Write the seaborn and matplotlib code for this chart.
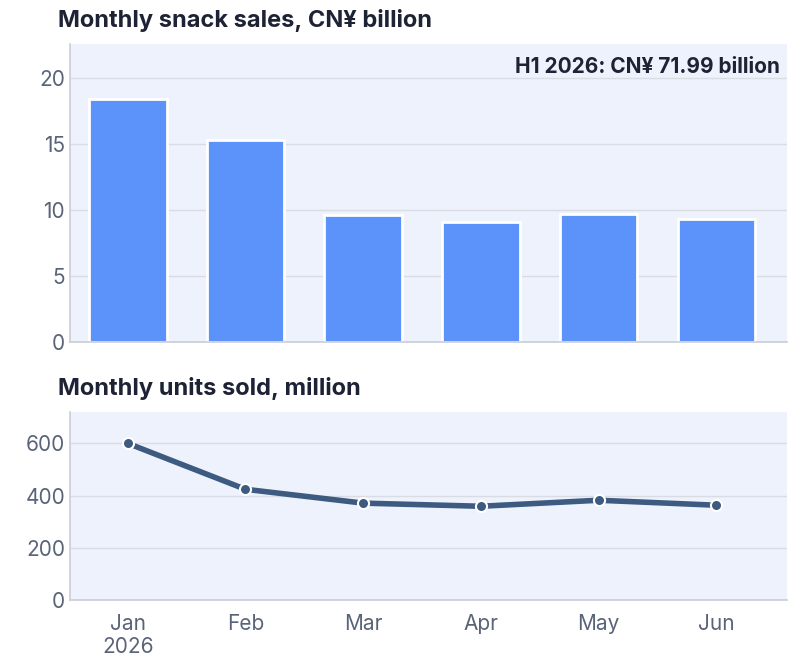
import matplotlib
matplotlib.use("Agg")
import matplotlib.pyplot as plt
import seaborn as sns
import pandas as pd

months = ["Jan\n2026", "Feb", "Mar", "Apr", "May", "Jun"]
sales = [18.4, 15.3, 9.6, 9.1, 9.7, 9.35]
units = [600, 424, 371, 359, 382, 363]

sns.set_theme(style="white")
plt.rcParams['font.family'] = ['Inter', 'DejaVu Sans']

df = pd.DataFrame({"month": months, "sales": sales, "units": units})

fig = plt.figure(figsize=(7.92, 6.68), dpi=100)
ax1 = fig.add_axes([70/792, 1-342/668, 717/792, 298/668])
ax2 = fig.add_axes([70/792, 1-600/668, 717/792, 188/668])

bg = "#EEF2FC"
grid = "#D9DCE3"
tick = "#5A6478"
for ax in (ax1, ax2):
    ax.set_facecolor(bg)
    for s in ("top", "right"):
        ax.spines[s].set_visible(False)
    for s in ("left", "bottom"):
        ax.spines[s].set_color("#CCCFD6")
    ax.grid(axis="y", color=grid, linewidth=1)
    ax.set_axisbelow(True)
    ax.tick_params(axis="both", colors=tick, labelsize=15, length=0)

sns.barplot(data=df, x="month", y="sales", ax=ax1, color="#5B93FB",
            edgecolor="white", linewidth=2, width=0.66, saturation=1)
ax1.set_ylim(0, 22.6)
ax1.set_yticks([0, 5, 10, 15, 20])
ax1.set_xticklabels([])
ax1.set_xlabel(""); ax1.set_ylabel("")
ax1.set_xlim(-0.49, 5.6)
ax1.text(0.99, 0.955, "H1 2026: CN¥ 71.99 billion", transform=ax1.transAxes,
         ha="right", va="top", fontsize=15, fontweight="bold", color="#1E2235")
fig.text(58/792, 1-20/668, "Monthly snack sales, CN¥ billion", fontsize=17,
         fontweight="bold", color="#1E2235", va="center")

sns.lineplot(data=df, x="month", y="units", ax=ax2, color="#3D5A80", linewidth=4,
             marker="o", markersize=8, markeredgecolor="white", markeredgewidth=1.5, sort=False)
ax2.set_ylim(0, 720)
ax2.set_yticks([0, 200, 400, 600])
ax2.set_xlim(-0.49, 5.6)
ax2.set_xlabel(""); ax2.set_ylabel("")
ax2.tick_params(axis="x", pad=10)
fig.text(58/792, 1-389/668, "Monthly units sold, million", fontsize=17,
         fontweight="bold", color="#1E2235", va="center")

fig.savefig("out.png", dpi=100)
